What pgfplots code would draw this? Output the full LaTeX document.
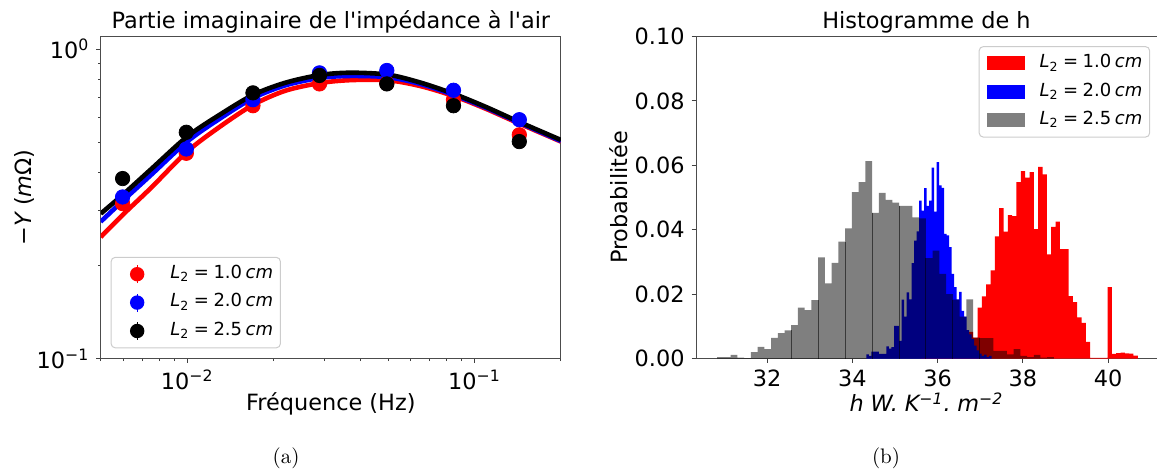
\documentclass[border=0pt]{standalone}
\usepackage{fontspec}
\usepackage{pgfplots}
\pgfplotsset{compat=1.18}
\newfontfamily\dejavu{DejaVu Sans}[Ligatures=TeXOff]
\newcommand{\F}{\dejavu\fontsize{11.2bp}{13.4bp}\selectfont}
\newcommand{\LF}{\dejavu\fontsize{9bp}{11bp}\selectfont}
\newcommand{\Lent}[1]{{\itshape L}\textsubscript{2}\hspace{0.25em}=\hspace{0.25em}#1\hspace{0.2em}{\itshape cm}}

\pgfplotsset{
  every axis title/.style={at={(0.5,1)}, anchor=base, yshift=4bp},
  common/.style={
    scale only axis, anchor=south west,
    axis line style={black!70, line width=0.5bp},
    tick align=outside, xtick pos=left, ytick pos=left,
    major tick length=2.2bp, minor tick length=1.3bp,
    tick style={black!75, line width=0.5bp},
    legend cell align=left,
  },
  errleg/.style={legend image code/.code={%
    \path[draw=none, fill=none] (0bp,0bp) -- (22bp,0bp);
    \draw[#1, sharp corners, line width=0.6bp] (11bp,-4.5bp) -- (11bp,4.5bp);
    \fill[#1, draw=none] (11bp,0bp) circle[radius=3.6bp];}},
  patchleg/.style={legend image code/.code={%
    \path[draw=none, fill=none] (0bp,0bp) -- (20.7bp,0bp);
    \fill[#1, sharp corners, draw=none] (1.9bp,-3.5bp) rectangle (20.7bp,3.5bp);}},
}

\begin{document}
\begin{tikzpicture}[x=1bp,y=1bp,font=\F]
\useasboundingbox (0bp,0bp) rectangle (578.5bp,235bp);

\begin{axis}[common,
  at={(50.35bp,55.75bp)}, width=230.15bp, height=161bp,
  xmode=log, ymode=log, xmin=0.005, xmax=0.2, ymin=0.1, ymax=1.1,
  xtick={0.01,0.1}, xticklabels={10\textsuperscript{−2},10\textsuperscript{−1}},
  ytick={0.1,1}, yticklabels={10\textsuperscript{−1},10\textsuperscript{0}},
  minor xtick={0.005,0.006,0.007,0.008,0.009,0.02,0.03,0.04,0.05,0.06,0.07,0.08,0.09,0.2},
  minor ytick={0.2,0.3,0.4,0.5,0.6,0.7,0.8,0.9},
  title={Partie imaginaire de l'impédance à l'air},
  xlabel={Fréquence (Hz)},
  xlabel style={at={(axis description cs:0.5,-0.160)}, anchor=base},
  ylabel={−{\itshape Y} ({\itshape m}Ω)},
  ylabel style={at={(axis description cs:-0.1666,0.5)}, anchor=center},
  legend style={at={(axis description cs:0.0217,0.0317)}, anchor=south west,
    font=\LF, draw=black!20, rounded corners=2bp, line width=0.5bp, fill=white,
    inner xsep=2bp, inner ysep=1.3bp, row sep=0pt, column sep=4bp,
    nodes={inner sep=1.6bp, text height=7.7bp, text depth=3.3bp}},
]
\addplot[red, line width=2.3bp, smooth, forget plot] coordinates {
(0.005,0.247) (0.006,0.293) (0.0075,0.357) (0.01,0.467) (0.013,0.562) (0.017,0.662)
(0.022,0.735) (0.029,0.778) (0.037,0.795) (0.05,0.794) (0.065,0.760) (0.085,0.705)
(0.11,0.641) (0.142,0.577) (0.2,0.503)};
\addplot[red, only marks, mark=*, mark size=3.6bp, errleg=red] coordinates {
(0.00596,0.317) (0.00993,0.461) (0.01694,0.657) (0.02887,0.773) (0.04952,0.776) (0.0845,0.687) (0.1432,0.529)};
\addlegendentry{\Lent{1.0}}

\addplot[blue, line width=2.3bp, smooth, forget plot] coordinates {
(0.005,0.277) (0.006,0.325) (0.0075,0.393) (0.01,0.503) (0.013,0.597) (0.017,0.696)
(0.022,0.765) (0.029,0.808) (0.037,0.820) (0.05,0.812) (0.065,0.772) (0.085,0.711)
(0.11,0.646) (0.142,0.581) (0.2,0.505)};
\addplot[blue, only marks, mark=*, mark size=3.6bp, errleg=blue] coordinates {
(0.00596,0.333) (0.00993,0.476) (0.01694,0.687) (0.02887,0.839) (0.04952,0.854) (0.0845,0.737) (0.1432,0.592)};
\addlegendentry{\Lent{2.0}}

\addplot[black, line width=2.3bp, smooth, forget plot] coordinates {
(0.005,0.294) (0.006,0.340) (0.0075,0.410) (0.01,0.522) (0.013,0.615) (0.017,0.713)
(0.022,0.780) (0.029,0.826) (0.037,0.840) (0.05,0.828) (0.065,0.780) (0.085,0.717)
(0.11,0.650) (0.142,0.584) (0.2,0.509)};
\addplot[black, only marks, mark=*, mark size=3.6bp, errleg=black] coordinates {
(0.00596,0.382) (0.00993,0.539) (0.01694,0.723) (0.02887,0.823) (0.04952,0.773) (0.0845,0.657) (0.1432,0.503)};
\addlegendentry{\Lent{2.5}}
\end{axis}

\begin{axis}[common,
  at={(348bp,55.75bp)}, width=230.5bp, height=161bp,
  xmin=30.33, xmax=41.15, ymin=0, ymax=0.1,
  xtick={32,34,36,38,40}, ytick={0,0.02,0.04,0.06,0.08,0.1},
  scaled y ticks=false,
  xticklabel style={/pgf/number format/assume math mode=true},
  yticklabel style={/pgf/number format/.cd, fixed, fixed zerofill, precision=2, assume math mode=true},
  title={Histogramme de h},
  xlabel={{\itshape h\hspace{0.3em}W.\hspace{0.3em}K\textsuperscript{−1}.\hspace{0.3em}m\textsuperscript{−2}}},
  xlabel style={at={(axis description cs:0.5,-0.166)}, anchor=base},
  ylabel={Probabilitée},
  ylabel style={at={(axis description cs:-0.1675,0.5)}, anchor=center},
  legend style={at={(axis description cs:0.985,0.970)}, anchor=north east,
    font=\LF, draw=black!20, rounded corners=2bp, line width=0.5bp, fill=white,
    inner xsep=2bp, inner ysep=1.3bp, row sep=0pt, column sep=5.9bp,
    nodes={inner sep=1.6bp, text height=7.7bp, text depth=3.3bp}},
]
\addplot[fill=red, draw=none, const plot mark left, patchleg=red]
coordinates {
(35.615,0.0004) (35.717,0.0003) (35.818,0.0005) (35.920,0.0004) (36.022,0.0006)
(36.124,0.0005) (36.225,0.0007) (36.327,0.0008) (36.429,0.0010) (36.530,0.0012)
(36.632,0.0020) (36.734,0.0083) (36.835,0.0065) (36.937,0.0158) (37.039,0.0193)
(37.141,0.0230) (37.242,0.0274) (37.344,0.0379) (37.446,0.0467) (37.547,0.0394)
(37.649,0.0445) (37.751,0.0442) (37.852,0.0548) (37.954,0.0582) (38.056,0.0562)
(38.158,0.0579) (38.259,0.0402) (38.361,0.0595) (38.463,0.0572) (38.564,0.0323)
(38.666,0.0409) (38.768,0.0425) (38.869,0.0340) (38.971,0.0340) (39.073,0.0194)
(39.175,0.0175) (39.276,0.0128) (39.378,0.0111) (39.480,0.0052) (39.581,0.0002)
(39.683,0.0002) (39.785,0.0002) (39.886,0.0002) (39.988,0.0222) (40.090,0.0014)
(40.191,0.0017) (40.293,0.0018) (40.395,0.0016) (40.497,0.0015) (40.598,0.0009)
(40.700,0.0009)} \closedcycle;
\addlegendentry{\Lent{1.0}}

\addplot[fill=blue, draw=none, const plot mark left, patchleg=blue]
coordinates {
(34.330,0.0013) (34.389,0.0008) (34.448,0.0021) (34.506,0.0021) (34.565,0.0021)
(34.624,0.0014) (34.683,0.0014) (34.742,0.0014) (34.800,0.0038) (34.859,0.0031)
(34.918,0.0035) (34.977,0.0101) (35.036,0.0101) (35.094,0.0055) (35.153,0.0183)
(35.212,0.0130) (35.271,0.0205) (35.330,0.0184) (35.388,0.0296) (35.447,0.0366)
(35.506,0.0395) (35.565,0.0490) (35.624,0.0459) (35.682,0.0529) (35.741,0.0474)
(35.800,0.0490) (35.859,0.0593) (35.918,0.0456) (35.976,0.0610) (36.035,0.0538)
(36.094,0.0530) (36.153,0.0387) (36.212,0.0382) (36.270,0.0346) (36.329,0.0263)
(36.388,0.0222) (36.447,0.0184) (36.506,0.0207) (36.564,0.0148) (36.623,0.0130)
(36.682,0.0088) (36.741,0.0075) (36.800,0.0060) (36.858,0.0040) (36.917,0.0025)
(36.976,0.0015) (37.035,0.0008) (37.094,0.0012) (37.152,0.0004) (37.211,0.0008)
(37.270,0.0008)} \closedcycle;
\addlegendentry{\Lent{2.0}}

\addplot[fill=black, fill opacity=0.5, draw=none, const plot mark left, patchleg={black, fill opacity=0.5}]
coordinates {
(30.826,0.0004) (30.984,0.0004) (31.142,0.0011) (31.300,0.0003) (31.458,0.0001)
(31.617,0.0020) (31.775,0.0036) (31.933,0.0029) (32.091,0.0064) (32.249,0.0079)
(32.407,0.0087) (32.565,0.0104) (32.723,0.0158) (32.881,0.0150) (33.039,0.0181)
(33.198,0.0314) (33.356,0.0233) (33.514,0.0297) (33.672,0.0363) (33.830,0.0404)
(33.988,0.0517) (34.146,0.0548) (34.304,0.0613) (34.462,0.0452) (34.620,0.0514)
(34.779,0.0493) (34.937,0.0484) (35.095,0.0474) (35.253,0.0474) (35.411,0.0438)
(35.569,0.0435) (35.727,0.0312) (35.885,0.0335) (36.043,0.0263) (36.201,0.0200)
(36.360,0.0183) (36.518,0.0130) (36.676,0.0184) (36.834,0.0065) (36.992,0.0063)
(37.150,0.0063) (37.308,0.0024) (37.466,0.0024) (37.624,0.0013) (37.782,0.0029)
(37.941,0.0008) (38.099,0.0004) (38.257,0.0011) (38.415,0.0003) (38.573,0.0004)
(38.731,0.0004)} \closedcycle;
\addlegendentry{\Lent{2.5}}

\addplot[ycomb, black, opacity=0.55, line width=0.5bp, forget plot] coordinates {
(32.565,0.0087) (33.198,0.0181) (33.830,0.0363) (34.462,0.0452) (35.095,0.0474)
(35.727,0.0312) (36.360,0.0183) (36.992,0.0063)};
\end{axis}

\node[font=\rmfamily\fontsize{10.5bp}{12bp}\selectfont, anchor=base] at (143bp,3.5bp) {(a)};
\node[font=\rmfamily\fontsize{10.5bp}{12bp}\selectfont, anchor=base] at (443bp,3.5bp) {(b)};
\end{tikzpicture}
\end{document}
